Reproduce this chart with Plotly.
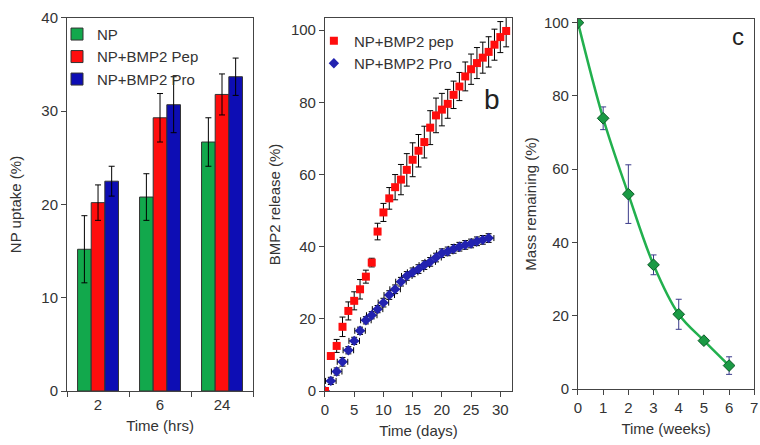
import plotly.graph_objects as go

# panel a - NP uptake
time_hrs = ["2", "6", "24"]
np_only = [15.2, 20.8, 26.7]
np_only_err = [3.6, 2.5, 2.6]
np_pep = [20.2, 29.3, 31.8]
np_pep_err = [1.9, 2.6, 2.2]
np_pro = [22.5, 30.7, 33.7]
np_pro_err = [1.6, 3.0, 2.0]

# panel b - BMP2 release
pep_days = list(range(0, 32))
pep_release = [0, 9.7, 12.5, 17.8, 22.2, 25.0, 28.2, 31.7, 35.6, 44.2,
               49.5, 53.4, 56.5, 58.6, 61.3, 64.1, 66.6, 69.0, 73.0, 76.4,
               78.0, 79.6, 82.1, 84.4, 87.2, 89.2, 90.9, 92.4, 94.0, 96.0,
               98.1, 99.8]
pep_err = [0, 0.8, 1.8, 2.7, 2.5, 2.5, 2.7, 1.8, 1.2, 2.3,
           2.5, 3.0, 3.5, 4.2, 4.5, 4.7, 4.5, 4.4, 4.7, 4.8,
           4.5, 4.0, 3.8, 3.9, 4.0, 4.2, 4.3, 4.3, 4.2, 4.3,
           4.3, 4.4]
pro_days = list(range(0, 29))
pro_release = [0, 2.8, 5.4, 8.1, 11.3, 13.9, 16.7, 19.6, 21.0, 22.7,
               24.5, 26.6, 28.2, 30.3, 31.9, 32.9, 33.8, 34.9, 35.8, 37.0,
               38.2, 38.7, 39.4, 40.0, 40.5, 40.9, 41.5, 41.9, 42.4]
pro_err_y = [0, 1.0, 1.0, 1.2, 1.0, 1.0, 1.0, 1.0, 1.0, 1.0,
             1.2, 1.2, 1.2, 1.2, 1.2, 1.2, 1.2, 1.2, 1.2, 1.2,
             1.2, 1.2, 1.2, 1.2, 1.2, 1.2, 1.2, 1.2, 1.2]
pro_err_x = [0] + [0.9] * 28

# panel c - mass remaining
weeks = [0, 1, 2, 3, 4, 5, 6]
mass = [100, 73.9, 53.2, 33.9, 20.4, 13.2, 6.4]
mass_err = [0, 3.1, 8.0, 2.7, 4.1, 0.8, 2.4]
week_ticks = [0, 1, 2, 3, 4, 5, 6, 7]

FONT = "Liberation Sans, Arial, sans-serif"
TXT = "#333333"

fig = go.Figure()

bar_line = dict(color="#333333", width=1)
err_k = dict(type="data", thickness=1, width=3, color="black")
fig.add_trace(go.Bar(x=time_hrs, y=np_only, name="NP", marker=dict(color="#12a84c", line=bar_line),
                     error_y=dict(array=np_only_err, **err_k), xaxis="x", yaxis="y", legend="legend"))
fig.add_trace(go.Bar(x=time_hrs, y=np_pep, name="NP+BMP2 Pep", marker=dict(color="#ff0d0d", line=bar_line),
                     error_y=dict(array=np_pep_err, **err_k), xaxis="x", yaxis="y", legend="legend"))
fig.add_trace(go.Bar(x=time_hrs, y=np_pro, name="NP+BMP2 Pro", marker=dict(color="#0d0db4", line=bar_line),
                     error_y=dict(array=np_pro_err, **err_k), xaxis="x", yaxis="y", legend="legend"))

fig.add_trace(go.Scatter(x=pro_days, y=pro_release, mode="markers", name="NP+BMP2 Pro",
                         marker=dict(symbol="diamond", size=8, color="#2222b0"),
                         error_y=dict(array=pro_err_y, **err_k),
                         error_x=dict(array=pro_err_x, **err_k),
                         xaxis="x2", yaxis="y2", legend="legend2"))
fig.add_trace(go.Scatter(x=pep_days, y=pep_release, mode="markers", name="NP+BMP2 pep",
                         marker=dict(symbol="square", size=8, color="#ff0d0d"),
                         error_y=dict(array=pep_err, **err_k),
                         xaxis="x2", yaxis="y2", legend="legend2"))

fig.add_trace(go.Scatter(x=weeks, y=mass, mode="lines+markers", showlegend=False,
                         line=dict(color="#22b04e", width=2.5, shape="spline"),
                         marker=dict(symbol="diamond", size=9, color="#1a9a44",
                                     line=dict(color="#0c5a28", width=1)),
                         error_y=dict(type="data", array=mass_err, thickness=1, width=3, color="#3a3a8a"),
                         xaxis="x3", yaxis="y3"))

ax = dict(showline=True, mirror=True, linecolor="#444444", linewidth=1, ticks="outside",
          ticklen=5, tickcolor="#444444", showgrid=False, zeroline=False, automargin=False,
          tickfont=dict(size=15, color=TXT), title_font=dict(size=15, color=TXT))

fig.update_layout(
    width=760, height=445,
    margin=dict(l=0, r=0, t=0, b=0, autoexpand=False),
    paper_bgcolor="white", plot_bgcolor="white",
    font=dict(family=FONT, color=TXT),
    barmode="group", bargap=0.34, bargroupgap=0,
    xaxis=dict(ax, domain=[0.0882, 0.3329], tickson="boundaries", title=dict(text="Time (hrs)", standoff=8),
               anchor="y"),
    yaxis=dict(ax, domain=[0.1213, 0.9596], range=[0, 40], dtick=10, title=dict(text="NP uptake (%)", standoff=16),
               anchor="x"),
    xaxis2=dict(ax, domain=[0.4276, 0.6737], range=[0, 32], tickvals=[0, 5, 10, 15, 20, 25, 30],
                title=dict(text="Time (days)", standoff=8), anchor="y2"),
    yaxis2=dict(ax, domain=[0.1213, 0.9596], range=[0, 103.4], tickvals=[0, 20, 40, 60, 80, 100],
                title=dict(text="BMP2 release (%)", standoff=6), anchor="x2"),
    xaxis3=dict(ax, domain=[0.7605, 0.9925], range=[0, 7.001], tickvals=week_ticks,
                ticklabeloverflow="allow",
                title=dict(text="Time (weeks)", standoff=8), anchor="y3"),
    yaxis3=dict(ax, domain=[0.1258, 0.9573], range=[0, 101], tickvals=[0, 20, 40, 60, 80, 100],
                title=dict(text="Mass remaining (%)", standoff=3), anchor="x3"),
    legend=dict(x=0.075, y=0.96, xanchor="left", yanchor="top", bgcolor="rgba(0,0,0,0)",
                font=dict(size=15, color=TXT), tracegroupgap=0),
    legend2=dict(x=0.413, y=0.945, xanchor="left", yanchor="top", bgcolor="rgba(0,0,0,0)",
                 font=dict(size=15, color=TXT), traceorder="reversed"),
    annotations=[
        dict(text="b", x=28.6, y=80.7, xref="x2", yref="y2", showarrow=False,
             font=dict(size=28, color="#222222")),
        dict(text="c", x=6.35, y=96.3, xref="x3", yref="y3", showarrow=False,
             font=dict(size=24, color="#222222")),
    ],
)

fig.write_html("out.html", config={"displayModeBar": False},
               post_script="document.body.style.margin='0';")
